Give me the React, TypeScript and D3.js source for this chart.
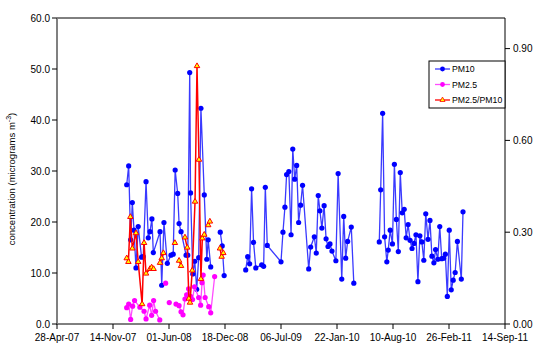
import React from 'react';
import * as d3 from 'd3';

// PM10 (micrograms m-3), null marks a break in the line
const pm10: [string, number | null][] = [
  ['2008-01-02', 27.3], ['2008-01-09', 31.0], ['2008-01-16', 16.5], ['2008-01-22', 23.8],
  ['2008-01-28', 18.4], ['2008-02-04', 11.0], ['2008-02-12', 19.1], ['2008-02-24', 13.1],
  ['2008-03-01', 13.2], ['2008-03-11', 27.9], ['2008-03-19', 16.9], ['2008-03-25', 18.1],
  ['2008-04-01', 20.6], ['2008-04-06', 14.0], ['2008-04-30', 18.1], ['2008-05-06', 7.6],
  ['2008-05-14', 19.9], ['2008-05-26', 11.9], ['2008-06-08', 13.5], ['2008-06-16', 13.7],
  ['2008-06-23', 30.2], ['2008-07-02', 25.6], ['2008-07-07', 19.7], ['2008-07-14', 18.1],
  ['2008-08-01', 13.5], ['2008-08-07', 13.5], ['2008-08-14', 49.3], ['2008-08-17', 25.7],
  ['2008-08-25', 9.8], ['2008-09-01', 12.3], ['2008-09-08', 6.8], ['2008-09-15', 13.0],
  ['2008-09-23', 42.3], ['2008-10-05', 25.3], ['2008-10-14', 12.7], ['2008-10-19', 16.5],
  ['2008-10-28', 11.2], ['2008-11-15', null],
  ['2008-12-01', 18.0], ['2008-12-08', 15.3], ['2008-12-15', 9.5], ['2009-01-15', null],
  ['2009-03-02', 10.6], ['2009-03-09', 13.2], ['2009-03-16', 11.8], ['2009-03-23', 26.5],
  ['2009-03-30', 16.0], ['2009-04-07', 11.0], ['2009-04-28', 11.6], ['2009-05-05', 11.3],
  ['2009-05-11', 26.8], ['2009-05-18', 15.4], ['2009-07-06', 12.2], ['2009-07-13', 18.0],
  ['2009-07-20', 22.9], ['2009-07-26', 29.3], ['2009-08-03', 29.9], ['2009-08-11', 17.5],
  ['2009-08-17', 34.3], ['2009-08-24', 28.4], ['2009-08-31', 31.1], ['2009-09-07', 19.9],
  ['2009-09-14', 23.3], ['2009-09-21', 27.2], ['2009-10-13', 10.8], ['2009-10-20', 15.1],
  ['2009-11-02', 17.1], ['2009-11-09', 13.9], ['2009-11-16', 25.2], ['2009-11-22', 22.2],
  ['2009-11-29', 18.8], ['2009-12-07', 23.2], ['2009-12-14', 16.7], ['2009-12-21', 15.2],
  ['2009-12-28', 15.7], ['2010-01-04', 14.3], ['2010-01-18', 12.4], ['2010-01-26', 29.5],
  ['2010-02-08', 8.8], ['2010-02-15', 21.1], ['2010-02-22', 12.9], ['2010-03-01', 16.2],
  ['2010-03-14', 19.0], ['2010-03-23', 8.0], ['2010-05-01', null],
  ['2010-06-22', 16.1], ['2010-06-27', 26.3], ['2010-07-04', 41.3], ['2010-07-11', 17.1],
  ['2010-07-19', 12.2], ['2010-07-24', 14.5], ['2010-07-31', 18.4], ['2010-08-08', 15.7],
  ['2010-08-15', 31.3], ['2010-08-22', 20.5], ['2010-08-29', 14.2], ['2010-09-05', 29.7],
  ['2010-09-12', 21.8], ['2010-09-19', 22.5], ['2010-09-26', 16.9], ['2010-10-03', 19.5],
  ['2010-10-10', 16.4], ['2010-10-17', 14.8], ['2010-10-24', 15.8], ['2010-10-31', 17.5],
  ['2010-11-07', 8.3], ['2010-11-14', 17.3], ['2010-11-21', 16.1], ['2010-11-28', 12.5],
  ['2010-12-05', 21.6], ['2010-12-13', 16.6], ['2010-12-20', 20.3], ['2010-12-27', 13.3],
  ['2011-01-03', 12.0], ['2011-01-09', 14.6], ['2011-01-17', 12.7], ['2011-01-24', 19.1],
  ['2011-01-31', 12.8], ['2011-02-07', 12.9], ['2011-02-13', 13.7], ['2011-02-20', 5.4],
  ['2011-02-27', 18.4], ['2011-03-06', 6.7], ['2011-03-13', 8.6], ['2011-03-20', 10.1],
  ['2011-03-28', 16.2], ['2011-04-11', 8.8], ['2011-04-17', 22.0],
];

// PM2.5 (micrograms m-3)
const pm25: [string, number | null][] = [
  ['2008-01-02', 3.2], ['2008-01-09', 3.9], ['2008-01-16', 0.9], ['2008-01-23', 3.5],
  ['2008-01-30', 4.6], ['2008-02-18', 3.3], ['2008-03-04', 2.5], ['2008-03-11', 1.0],
  ['2008-03-24', 3.7], ['2008-03-31', 1.7], ['2008-04-07', 4.6], ['2008-04-14', 2.5],
  ['2008-04-29', 0.8], ['2008-05-10', null], ['2008-05-20', 8.0], ['2008-05-25', null],
  ['2008-06-02', 4.2], ['2008-06-15', null],
  ['2008-06-26', 3.9], ['2008-07-07', 3.6], ['2008-07-14', 2.4], ['2008-07-21', 1.8],
  ['2008-07-28', 4.9], ['2008-08-03', 5.7], ['2008-08-10', 6.9], ['2008-08-17', 5.4],
  ['2008-08-24', 4.8], ['2008-08-31', 7.3], ['2008-09-15', 5.2], ['2008-09-22', 3.7],
  ['2008-09-27', 8.1], ['2008-10-01', 9.6], ['2008-10-08', 5.2], ['2008-10-21', 3.4],
  ['2008-10-28', 2.2], ['2008-11-11', 9.3],
];

// PM2.5/PM10 ratio (secondary axis)
const ratio: [string, number | null][] = [
  ['2008-01-02', 0.215], ['2008-01-08', 0.203], ['2008-01-15', 0.35], ['2008-01-22', 0.247],
  ['2008-02-04', 0.297], ['2008-02-12', 0.203], ['2008-02-26', 0.065], ['2008-03-04', 0.265],
  ['2008-03-11', 0.165], ['2008-03-25', 0.18], ['2008-03-31', 0.185], ['2008-04-07', 0.18],
  ['2008-04-20', null],
  ['2008-04-30', 0.2], ['2008-05-06', 0.215], ['2008-05-12', 0.232], ['2008-06-01', null],
  ['2008-06-22', 0.265], ['2008-07-01', null], ['2008-07-07', 0.207], ['2008-07-14', 0.19],
  ['2008-07-21', null],
  ['2008-07-28', 0.283], ['2008-08-05', 0.25], ['2008-08-11', 0.083], ['2008-08-15', 0.07],
  ['2008-08-23', 0.175], ['2008-09-02', 0.4], ['2008-09-09', 0.843], ['2008-09-16', 0.537],
  ['2008-09-23', 0.147], ['2008-09-28', 0.28], ['2008-10-05', 0.292], ['2008-10-12', null],
  ['2008-10-19', 0.323], ['2008-10-25', 0.335], ['2008-11-15', null],
  ['2008-11-30', 0.247], ['2008-12-06', 0.22], ['2008-12-12', 0.232],
];

const leftTicks = [0, 10, 20, 30, 40, 50, 60];
const rightTicks = [0, 0.3, 0.6, 0.9];
const legendItems = ['PM10', 'PM2.5', 'PM2.5/PM10'];

const parse = d3.timeParse('%Y-%m-%d');
const fmt = d3.timeFormat('%d-%b-%y');

const W = 550;
const H = 363;
const m = { left: 57, right: 45, top: 18, bottom: 39 };
const FONT = '"Liberation Sans", Arial, sans-serif';

const App = () => {
  const start = parse('2007-04-28') as Date;
  const end = d3.timeDay.offset(start, 1600);
  const x = d3.scaleTime().domain([start, end]).range([m.left, W - m.right]);
  const y = d3.scaleLinear().domain([0, 60]).range([H - m.bottom, m.top]);
  const y2 = d3.scaleLinear().domain([0, 1]).range([H - m.bottom, m.top]);
  const xTicks = d3.range(0, 1601, 200).map(d => d3.timeDay.offset(start, d));

  const x0 = m.left;
  const x1 = W - m.right;
  const yb = H - m.bottom;

  const mk = (ys: d3.ScaleLinear<number, number>) =>
    d3.line<[string, number | null]>()
      .defined(d => d[1] !== null)
      .x(d => x(parse(d[0]) as Date))
      .y(d => ys(d[1] as number));

  const pts = (arr: [string, number | null][]) => arr.filter(d => d[1] !== null);
  const tri = d3.symbol(d3.symbolTriangle, 13)();

  const legendColors = [
    { line: '#3a3aff', mark: '#0000ff' },
    { line: '#ff4dff', mark: '#ff00ff' },
    { line: '#ff0000', mark: '#ff0000' },
  ];

  return (
    <svg width={W} height={H} style={{ position: 'absolute', left: 0, top: 0, background: '#fff' }}
      fontFamily={FONT}>
      {/* frame */}
      <line x1={x0} x2={x1} y1={m.top} y2={m.top} stroke="#000" strokeWidth={1} />
      <line x1={x1} x2={x1} y1={m.top} y2={yb} stroke="#000" strokeWidth={1} />
      <line x1={x0} x2={x1} y1={yb} y2={yb} stroke="#000" strokeWidth={1} />
      <line x1={x0} x2={x0} y1={m.top} y2={yb + 1} stroke="#808080" strokeWidth={2} />

      {/* left axis */}
      {leftTicks.map(t => (
        <g key={'l' + t}>
          <line x1={x0 - 5} x2={x0} y1={y(t)} y2={y(t)} stroke="#000" />
          <text x={x0 - 7} y={y(t)} dy="0.35em" textAnchor="end" fontSize={10}>{t.toFixed(1)}</text>
        </g>
      ))}
      {/* right axis */}
      {rightTicks.map(t => (
        <g key={'r' + t}>
          <line x1={x1} x2={x1 + 5} y1={y2(t)} y2={y2(t)} stroke="#000" />
          <text x={x1 + 8} y={y2(t)} dy="0.35em" textAnchor="start" fontSize={10}>{t.toFixed(2)}</text>
        </g>
      ))}
      {/* bottom axis */}
      {xTicks.map((t, i) => (
        <g key={'x' + i}>
          <line x1={x(t)} x2={x(t)} y1={yb} y2={yb + 5} stroke="#000" />
          <text x={x(t)} y={yb + 17} textAnchor="middle" fontSize={10}>{fmt(t)}</text>
        </g>
      ))}

      <text transform={`translate(15,${(m.top + yb) / 2 + 8}) rotate(-90)`} textAnchor="middle" fontSize={9.5}>
        concentration (micrograms m<tspan dy={-4} fontSize={7}>-3</tspan><tspan dy={4}>)</tspan>
      </text>

      {/* PM10 */}
      <path d={mk(y)(pm10) ?? ''} fill="none" stroke="#3a3aff" strokeWidth={1.3} />
      {pts(pm10).map((d, i) => (
        <circle key={'a' + i} cx={x(parse(d[0]) as Date)} cy={y(d[1] as number)} r={2.6} fill="#0000ff" />
      ))}

      {/* PM2.5 */}
      <path d={mk(y)(pm25) ?? ''} fill="none" stroke="#ff4dff" strokeWidth={1.3} />
      {pts(pm25).map((d, i) => (
        <circle key={'b' + i} cx={x(parse(d[0]) as Date)} cy={y(d[1] as number)} r={2.6} fill="#ff00ff" />
      ))}

      {/* ratio on secondary axis */}
      <path d={mk(y2)(ratio) ?? ''} fill="none" stroke="#ff0000" strokeWidth={1.5} />
      {pts(ratio).map((d, i) => (
        <path key={'c' + i} d={tri ?? ''} fill="#ffff00" stroke="#ff0000" strokeWidth={1}
          transform={`translate(${x(parse(d[0]) as Date)},${y2(d[1] as number)})`} />
      ))}

      {/* legend */}
      <g transform="translate(429,61)">
        <rect x={0} y={0} width={76} height={47} fill="#fff" stroke="#000" strokeWidth={1} />
        {legendItems.map((name, i) => (
          <g key={name} transform={`translate(0,${8 + i * 15.5})`}>
            <line x1={6} x2={21} y1={0} y2={0} stroke={legendColors[i].line} strokeWidth={1.3} />
            {i < 2 ? (
              <circle cx={13.5} cy={0} r={2.4} fill={legendColors[i].mark} />
            ) : (
              <path d={d3.symbol(d3.symbolTriangle, 11)() ?? ''} transform="translate(13.5,0)"
                fill="#ffff00" stroke="#ff0000" strokeWidth={0.8} />
            )}
            <text x={23} y={0} dy="0.35em" fontSize={8.7}>{name}</text>
          </g>
        ))}
      </g>
    </svg>
  );
};

export default App;
